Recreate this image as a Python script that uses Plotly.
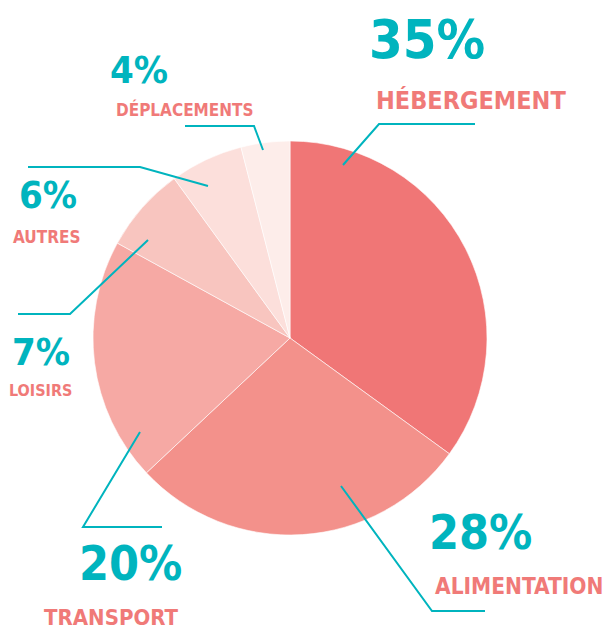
"""
plot.py

Pie of holiday budget shares with leader-line callouts
"""
import plotly.graph_objects as go

# data
categories = ["HÉBERGEMENT", "ALIMENTATION", "TRANSPORT", "LOISIRS", "AUTRES", "DÉPLACEMENTS"]
shares = [35, 28, 20, 7, 6, 4]
slice_colors = ["#F07676", "#F3918B", "#F6A9A4", "#F8C5BF", "#FCDFDB", "#FDEDEA"]

TEAL = "#00B4BE"
SALMON = "#F07A78"
FONT = "DejaVu Sans Condensed, Liberation Sans Narrow, sans-serif"
W, H = 605, 630

# callout layout in pixels: (pct x, pct y, pct size, name x, name y, name size, leader path)
callouts = [
    (427, 39, 54, 471, 100, 25, [(343, 165), (379, 124), (475, 124)]),
    (480, 532, 48, 519, 586, 22.5, [(341, 486), (432, 611), (485, 611)]),
    (130, 563, 48, 111, 617, 22, [(140, 432), (83, 527), (162, 527)]),
    (41, 352, 38, 40, 390, 16, [(148, 240), (70, 314), (18, 314)]),
    (48, 195, 38, 46, 237, 17, [(208, 186), (140, 167), (28, 167)]),
    (139, 70, 38, 185, 109, 17, [(263, 150), (254, 126), (185, 126)]),
]


def build():
    fig = go.Figure()
    fig.add_trace(go.Pie(
        labels=categories,
        values=shares,
        sort=False,
        direction="clockwise",
        rotation=0,
        marker=dict(colors=slice_colors, line=dict(color="white", width=0.6)),
        textinfo="none",
        hoverinfo="label+percent",
        showlegend=False,
        domain=dict(x=[93 / W, 487 / W], y=[1 - 535 / H, 1 - 141 / H]),
    ))
    # invisible pixel-space axes for callouts
    fig.add_trace(go.Scatter(x=[0, W], y=[0, H], mode="markers",
                             marker=dict(opacity=0), hoverinfo="skip", showlegend=False))

    for (name, pct), c in zip(zip(categories, shares), callouts):
        px, py, ps, nx, ny, ns, path = c
        fig.add_annotation(x=px, y=py, text=f"<b>{pct}%</b>", showarrow=False,
                           xanchor="center", yanchor="middle",
                           font=dict(family=FONT, size=ps, color=TEAL))
        fig.add_annotation(x=nx, y=ny, text=f"<b>{name}</b>", showarrow=False,
                           xanchor="center", yanchor="middle",
                           font=dict(family=FONT, size=ns, color=SALMON))
        d = "M " + " L ".join(f"{x},{y}" for x, y in path)
        fig.add_shape(type="path", path=d, xref="x", yref="y",
                      line=dict(color=TEAL, width=2))

    fig.update_xaxes(range=[0, W], visible=False, fixedrange=True)
    fig.update_yaxes(range=[H, 0], visible=False, fixedrange=True)
    fig.update_layout(
        width=W, height=H,
        margin=dict(t=0, l=0, r=0, b=0),
        paper_bgcolor="white", plot_bgcolor="rgba(0,0,0,0)",
        xaxis=dict(domain=[0, 1]), yaxis=dict(domain=[0, 1]),
    )
    return fig


if __name__ == '__main__':
    fig = build()
    fig.write_html("out.html", config={"displayModeBar": False},
                   post_script="document.body.style.margin='0';")
